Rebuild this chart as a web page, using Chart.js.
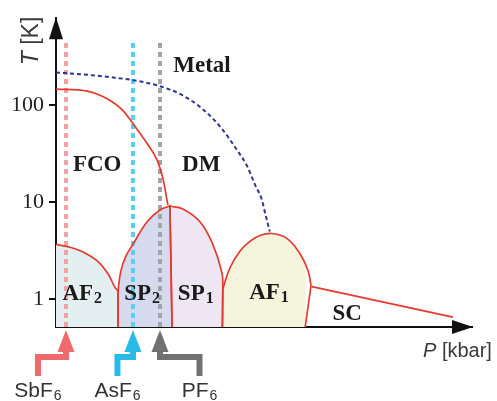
<!DOCTYPE html>
<html lang="en">
<head>
  <meta charset="UTF-8" />
  <title>Phase diagram</title>
  <script src="https://cdn.jsdelivr.net/npm/chart.js"></script>
  <style>
    body {
      margin: 0;
      background: #fff;
    }
    #chart-container {
      width: 497px;
      height: 401px;
    }
  </style>
</head>
<body>

  <div id="chart-container">
    <canvas id="phaseChart"></canvas>
  </div>

  <script>
    // T [K] axis (log) ticks
    const yTicks = [1, 10, 100];
    const yMin = 0.52;
    const yMax = 775;

    // phase boundaries, pressure in arbitrary kbar units / temperature in K
    const fcoP = [0, 7.5, 12.3, 16.1, 18.5, 21.9, 24.3, 25.7, 26.9];
    const fcoT = [145, 138, 115, 87, 64, 40, 27, 17.5, 9.3];

    const metalP = [0, 6.5, 13.0, 18.5, 25.0, 29.8, 34.6, 39.4, 43.5, 45.9, 47.8, 49.5, 50.2, 51.4];
    const metalT = [215, 205, 192, 179, 155, 129, 95, 60, 34.3, 23.6, 15.2, 10.5, 7.9, 4.97];

    const af2P = [0, 3.4, 6.5, 9.9, 12.5, 14.2, 14.9, 14.9];
    const af2T = [3.68, 3.43, 3.06, 2.48, 1.83, 1.32, 1.23, 0.52];

    const sp2P = [14.9, 14.9, 15.6, 16.8, 18.5, 21.9, 25.0, 27.4, 27.9];
    const sp2T = [0.52, 1.23, 1.96, 2.78, 3.68, 6.28, 8.3, 9.1, 0.52];

    const sp1P = [27.9, 27.4, 30.5, 34.6, 37.7, 39.9, 40.1, 40.0];
    const sp1T = [0.52, 9.1, 8.5, 6.28, 3.68, 1.87, 1.29, 0.52];

    const af1P = [40.0, 40.1, 41.8, 44.2, 46.6, 49.0, 51.9, 55.5, 58.7, 60.6, 61.3, 59.9];
    const af1T = [0.52, 1.29, 2.1, 3.12, 3.94, 4.53, 4.75, 4.23, 2.92, 1.96, 1.38, 0.52];

    const scP = [61.5, 95.4];
    const scT = [1.35, 0.658];

    // anion substitution (ambient pressure positions)
    const dopants = ['SbF', 'AsF', 'PF'];
    const dopantP = [2.4, 18.5, 25.0];
    const dotColors = ['#f3a2a3', '#5ccdf1', '#a3a3a3'];
    const arrowColors = ['#ee6a6c', '#29bbe8', '#717173'];
    const elbow = [-28, -15.5, 39.5];

    // phase names
    const phaseNames = [
      { text: 'Metal', sub: '', p: 35.1, t: 262 },
      { text: 'FCO', sub: '', p: 9.9, t: 25 },
      { text: 'DM', sub: '', p: 34.9, t: 25 },
      { text: 'AF', sub: '2', p: 6.3, t: 1.18 },
      { text: 'SP', sub: '2', p: 20.7, t: 1.18 },
      { text: 'SP', sub: '1', p: 33.6, t: 1.18 },
      { text: 'AF', sub: '1', p: 51.2, t: 1.23 },
      { text: 'SC', sub: '', p: 70.0, t: 0.75 }
    ];

    // points where a dome meets a straight vertical boundary (kept sharp)
    function pts(ps, ts, corners) {
      const out = [];
      ps.forEach((p, i) => {
        out.push({ x: p, y: ts[i] });
        if (corners && corners.includes(i)) out.push({ x: p, y: ts[i] });
      });
      return out;
    }

    const red = '#e53a2f';

    function fillSet(ps, ts, corners, color) {
      return {
        data: pts(ps, ts, corners), showLine: true, pointRadius: 0, tension: 0.4,
        borderWidth: 0, borderColor: 'rgba(0,0,0,0)',
        backgroundColor: color, fill: 'start', order: 3
      };
    }
    function lineSet(ps, ts, corners) {
      return {
        data: pts(ps, ts, corners), showLine: true, pointRadius: 0, tension: 0.4,
        borderWidth: 1.7, borderColor: red, fill: false, order: 1
      };
    }

    const datasets = [
      fillSet(af2P, af2T, [6], '#e3eff1'),
      fillSet(sp2P, sp2T, [1, 7], '#d6daee'),
      fillSet(sp1P, sp1T, [1, 6], '#eee7f3'),
      fillSet(af1P, af1T, [1, 10], '#f4f4dd')
    ];
    dopantP.forEach((p, i) => {
      datasets.push({
        data: [{ x: p, y: yMin }, { x: p, y: 430 }], showLine: true, pointRadius: 0,
        borderWidth: 4, borderColor: dotColors[i], borderDash: [5, 4], fill: false, order: 2
      });
    });
    const fcoLine = lineSet(fcoP, fcoT, []);
    fcoLine.cubicInterpolationMode = 'monotone';
    datasets.push(fcoLine);
    datasets.push(lineSet(af2P, af2T, [6]));
    datasets.push(lineSet(sp2P, sp2T, [1, 7]));
    datasets.push(lineSet(sp1P, sp1T, [1, 6]));
    datasets.push(lineSet(af1P, af1T, [1, 10]));
    datasets.push(lineSet(scP, scT, []));
    datasets.push({
      data: pts(metalP, metalT), showLine: true, pointRadius: 0, cubicInterpolationMode: 'monotone',
      borderWidth: 2, borderColor: '#2e3591', borderDash: [4, 3], fill: false, order: 1
    });

    function drawLabel(ctx, x, y, text, sub, size, bold, family) {
      const w = bold ? 'bold ' : '';
      ctx.font = w + size + 'px ' + family;
      const mw = ctx.measureText(text).width;
      ctx.font = w + Math.round(size * 0.68) + 'px ' + family;
      const sw = sub ? ctx.measureText(sub).width + 1 : 0;
      const x0 = x - (mw + sw) / 2;
      ctx.textAlign = 'left';
      ctx.textBaseline = 'alphabetic';
      ctx.font = w + size + 'px ' + family;
      ctx.fillText(text, x0, y);
      if (sub) {
        ctx.font = w + Math.round(size * 0.68) + 'px ' + family;
        ctx.fillText(sub, x0 + mw + 1, y + 3);
      }
    }

    const decorations = {
      id: 'decorations',
      afterDraw(chart) {
        const ctx = chart.ctx;
        const area = chart.chartArea;
        const xs = chart.scales.x;
        const ys = chart.scales.y;
        ctx.save();
        ctx.fillStyle = '#111';
        // axis arrow heads
        ctx.beginPath();
        ctx.moveTo(area.left, area.top - 1);
        ctx.lineTo(area.left - 7, area.top + 21);
        ctx.lineTo(area.left + 7, area.top + 21);
        ctx.closePath();
        ctx.fill();
        ctx.beginPath();
        ctx.moveTo(area.right + 1, area.bottom);
        ctx.lineTo(area.right - 20, area.bottom - 7);
        ctx.lineTo(area.right - 20, area.bottom + 7);
        ctx.closePath();
        ctx.fill();

        // axis titles
        ctx.fillStyle = '#3a3a3a';
        ctx.save();
        ctx.translate(38, 41);
        ctx.rotate(-Math.PI / 2);
        ctx.textBaseline = 'alphabetic';
        ctx.textAlign = 'left';
        ctx.font = 'italic 23px "Liberation Sans"';
        const tw = ctx.measureText('T').width;
        ctx.font = '23px "Liberation Sans"';
        const rw = ctx.measureText(' [K]').width;
        ctx.font = 'italic 23px "Liberation Sans"';
        ctx.fillText('T', -(tw + rw) / 2, 0);
        ctx.font = '23px "Liberation Sans"';
        ctx.fillText(' [K]', -(tw + rw) / 2 + tw, 0);
        ctx.restore();

        ctx.textAlign = 'left';
        ctx.font = 'italic 20px "Liberation Sans"';
        ctx.fillText('P', 423, 357);
        const pw = ctx.measureText('P').width;
        ctx.font = '20px "Liberation Sans"';
        ctx.fillText(' [kbar]', 423 + pw, 357);

        // phase names
        ctx.fillStyle = '#1a1a1a';
        phaseNames.forEach(l => {
          drawLabel(ctx, xs.getPixelForValue(l.p), ys.getPixelForValue(l.t) + 8,
            l.text, l.sub, 23, true, '"Liberation Serif"');
        });

        // anion arrows
        dopants.forEach((d, i) => {
          const x0 = xs.getPixelForValue(dopantP[i]);
          const x1 = x0 + elbow[i];
          ctx.fillStyle = arrowColors[i];
          ctx.strokeStyle = arrowColors[i];
          ctx.beginPath();
          ctx.moveTo(x0, area.bottom + 3);
          ctx.lineTo(x0 - 8.5, area.bottom + 25);
          ctx.lineTo(x0 + 8.5, area.bottom + 25);
          ctx.closePath();
          ctx.fill();
          ctx.lineWidth = 6;
          ctx.lineJoin = 'miter';
          ctx.beginPath();
          ctx.moveTo(x0, area.bottom + 23);
          ctx.lineTo(x0, area.bottom + 30);
          ctx.lineTo(x1, area.bottom + 30);
          ctx.lineTo(x1, area.bottom + 49);
          ctx.stroke();
          ctx.fillStyle = '#333';
          drawLabel(ctx, x1, area.bottom + 70, d, '6', 21, false, '"Liberation Sans"');
        });
        ctx.restore();
      }
    };

    const ctx = document.getElementById('phaseChart').getContext('2d');
    const chart = new Chart(ctx, {
      type: 'scatter',
      data: { datasets: datasets },
      options: {
        responsive: true,
        maintainAspectRatio: false,
        animation: false,
        layout: { padding: { top: 13, right: 25, left: 0, bottom: 0 } },
        plugins: {
          legend: { display: false },
          tooltip: { enabled: false }
        },
        scales: {
          x: {
            type: 'linear',
            min: 0,
            max: 100,
            grid: { display: false },
            border: { display: true, color: '#111', width: 2 },
            ticks: { display: false },
            afterFit: (s) => { s.height = 74; }
          },
          y: {
            type: 'logarithmic',
            min: yMin,
            max: yMax,
            afterBuildTicks: (s) => { s.ticks = yTicks.map(v => ({ value: v })); },
            ticks: {
              padding: 5,
              color: '#222',
              font: { family: '"Liberation Serif"', size: 22 },
              callback: (v) => String(v)
            },
            grid: {
              drawOnChartArea: false,
              drawTicks: true,
              tickLength: 7,
              color: '#111',
              lineWidth: 2
            },
            border: { display: true, color: '#111', width: 2 },
            afterFit: (s) => { s.width = 56; }
          }
        }
      },
      plugins: [decorations]
    });
  </script>

</body>
</html>
